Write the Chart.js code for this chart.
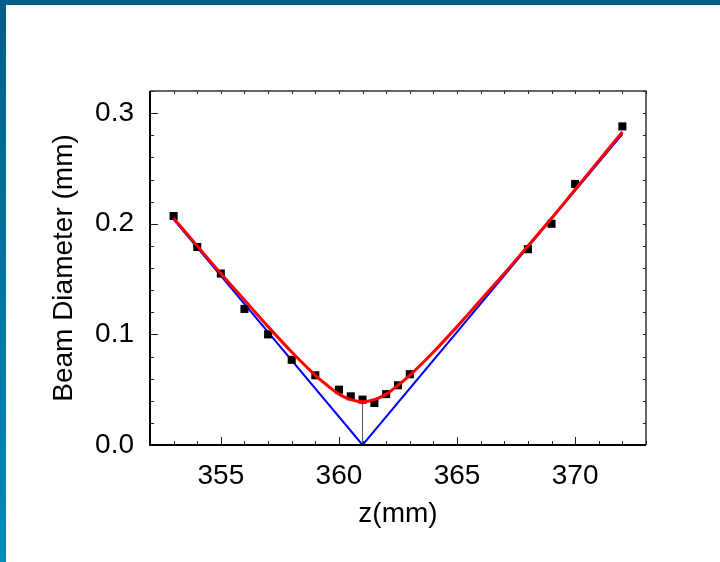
<!DOCTYPE html>
<html>
<head>
<meta charset="utf-8">
<script src="https://cdn.jsdelivr.net/npm/chart.js@4.4.1/dist/chart.umd.min.js"></script>
<style>
  html, body { margin: 0; padding: 0; background: #fff; }
  #frameTop { position: absolute; left: 0; top: 0; width: 720px; height: 5px; background: #00628a; }
  #frameLeft { position: absolute; left: 0; top: 0; width: 6px; height: 562px;
               background: linear-gradient(to bottom, #005f86, #0089ba); }
  #wrap { position: absolute; left: 0; top: 0; width: 720px; height: 562px; }
</style>
</head>
<body>
<div id="frameTop"></div>
<div id="frameLeft"></div>
<div id="wrap"><canvas id="beamChart" width="720" height="562"></canvas></div>
<script>
// measured beam diameters
const zMeas = [353, 354, 355, 356, 357, 358, 359, 360, 360.5, 361, 361.5, 362, 362.5, 363, 368, 369, 370, 372];
const dMeas = [0.207, 0.179, 0.155, 0.123, 0.100, 0.077, 0.063, 0.050, 0.044, 0.041, 0.038, 0.046, 0.054, 0.064, 0.177, 0.200, 0.236, 0.288];

// fitted curve (red)
const zFit = [353, 354, 355, 356, 357, 358, 359, 359.5, 360, 360.5, 361, 361.5, 362, 362.5, 363, 364, 365, 366, 367, 368, 369, 370, 371, 372];
const dFit = [0.205, 0.180, 0.155, 0.131, 0.107, 0.084, 0.063, 0.054, 0.046, 0.041, 0.039, 0.041, 0.046, 0.054, 0.063, 0.084, 0.107, 0.131, 0.155, 0.180, 0.205, 0.231, 0.257, 0.283];

// asymptotes (blue)
const zAsym = [353, 361, 372];
const dAsym = [0.204, 0, 0.281];

// waist marker
const zWaist = [361, 361];
const dWaist = [0, 0.039];

const xTicks = [355, 360, 365, 370];
const yTicks = [0, 0.1, 0.2, 0.3];
const xMinor = [352, 353, 354, 355, 356, 357, 358, 359, 360, 361, 362, 363, 364, 365, 366, 367, 368, 369, 370, 371, 372, 373];
const yMinor = [0, 0.02, 0.04, 0.06, 0.08, 0.1, 0.12, 0.14, 0.16, 0.18, 0.2, 0.22, 0.24, 0.26, 0.28, 0.3, 0.32];

const pts = (xs, ys) => xs.map((x, i) => ({ x: x, y: ys[i] }));
const fontFamily = "'Liberation Sans', Arial, sans-serif";

// box and inward ticks, like the original plot frame
const frameTicks = {
    id: "frameTicks",
    afterDraw(chart) {
        const ctx = chart.ctx;
        const a = chart.chartArea;
        const xs = chart.scales.x, ys = chart.scales.y;
        ctx.save();
        ctx.strokeStyle = "#222";
        ctx.lineWidth = 1;
        xMinor.forEach(v => {
            const px = Math.round(xs.getPixelForValue(v)) + 0.5;
            const len = xTicks.includes(v) ? 8 : 4;
            ctx.beginPath();
            ctx.moveTo(px, a.bottom); ctx.lineTo(px, a.bottom - len);
            ctx.moveTo(px, a.top); ctx.lineTo(px, a.top + 3);
            ctx.stroke();
        });
        yMinor.forEach(v => {
            const py = Math.round(ys.getPixelForValue(v)) + 0.5;
            const len = yTicks.some(t => Math.abs(t - v) < 1e-9) ? 8 : 4;
            ctx.beginPath();
            ctx.moveTo(a.left, py); ctx.lineTo(a.left + len, py);
            ctx.moveTo(a.right, py); ctx.lineTo(a.right - 3, py);
            ctx.stroke();
        });
        ctx.strokeStyle = "#333";
        ctx.lineWidth = 1.5;
        ctx.beginPath();
        ctx.moveTo(a.left, a.top); ctx.lineTo(a.right, a.top); ctx.lineTo(a.right, a.bottom);
        ctx.stroke();
        ctx.strokeStyle = "#000";
        ctx.lineWidth = 2;
        ctx.beginPath();
        ctx.moveTo(a.left, a.top); ctx.lineTo(a.left, a.bottom); ctx.lineTo(a.right, a.bottom);
        ctx.stroke();
        ctx.restore();
    }
};

const ctx = document.getElementById("beamChart").getContext("2d");

new Chart(ctx, {
    type: "scatter",
    data: {
        datasets: [
            {
                label: "fit",
                data: pts(zFit, dFit),
                showLine: true,
                borderColor: "#ff0000",
                borderWidth: 3,
                pointRadius: 0,
                cubicInterpolationMode: "monotone",
                order: 0
            },
            {
                label: "data",
                data: pts(zMeas, dMeas),
                pointStyle: "rect",
                pointRadius: 5.7,
                backgroundColor: "#000",
                borderWidth: 0,
                order: 1
            },
            {
                label: "asymptote",
                data: pts(zAsym, dAsym),
                showLine: true,
                borderColor: "#0000ff",
                borderWidth: 2,
                pointRadius: 0,
                order: 2
            },
            {
                label: "waist",
                data: pts(zWaist, dWaist),
                showLine: true,
                borderColor: "#555",
                borderWidth: 1,
                pointRadius: 0,
                order: 3
            }
        ]
    },
    options: {
        responsive: false,
        animation: false,
        devicePixelRatio: 1,
        layout: { padding: { top: 91, right: 74, left: 0, bottom: 0 } },
        plugins: { legend: { display: false }, tooltip: { enabled: false } },
        scales: {
            x: {
                type: "linear",
                min: 352,
                max: 373,
                grid: { display: false },
                border: { display: false },
                afterBuildTicks: s => { s.ticks = xTicks.map(v => ({ value: v })); },
                afterFit: s => { s.height = 117; },
                ticks: {
                    color: "#000",
                    padding: 6,
                    font: { family: fontFamily, size: 28 },
                    callback: v => String(v)
                },
                title: {
                    display: true,
                    text: "z(mm)",
                    color: "#000",
                    font: { family: fontFamily, size: 28 },
                    padding: { top: 0, bottom: 31 }
                }
            },
            y: {
                type: "linear",
                min: 0,
                max: 0.32,
                grid: { display: false },
                border: { display: false },
                afterBuildTicks: s => { s.ticks = yTicks.map(v => ({ value: v })); },
                afterFit: s => { s.width = 150; },
                ticks: {
                    color: "#000",
                    padding: 8,
                    font: { family: fontFamily, size: 28 },
                    callback: v => v.toFixed(1)
                },
                title: {
                    display: true,
                    text: "Beam Diameter (mm)",
                    color: "#000",
                    font: { family: fontFamily, size: 28 },
                    padding: { top: 47, bottom: 0 }
                }
            }
        }
    },
    plugins: [frameTicks]
});
</script>
</body>
</html>
